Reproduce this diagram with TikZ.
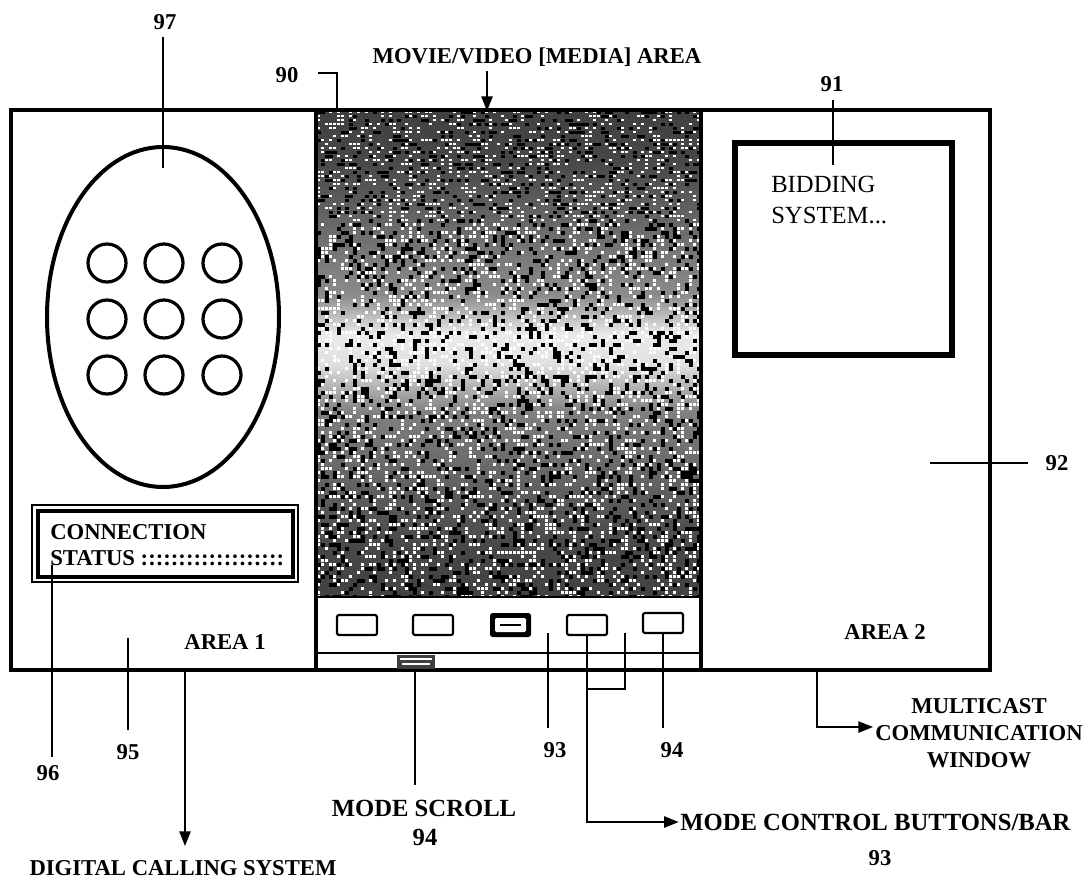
\documentclass[tikz,border=0pt]{standalone}
\usepackage{fontspec}
\setmainfont{Liberation Serif}
\usetikzlibrary{arrows.meta}
\pgfdeclareverticalshading{mediashade}{100bp}{color(0bp)=(black!85); color(30bp)=(black!72); color(44bp)=(black!50); color(49bp)=(black!12); color(52bp)=(black!8); color(56bp)=(black!45); color(70bp)=(black!72); color(100bp)=(black!88)}
\begin{document}
\begin{tikzpicture}[x=0.75pt,y=-0.75pt,
  lbl/.style={font=\bfseries\fontsize{17}{20}\selectfont, inner sep=0pt, align=center},
  biglbl/.style={font=\bfseries\fontsize{18.5}{22}\selectfont, inner sep=0pt, align=center},
  thinline/.style={line width=1.1pt},
  arr/.style={line width=1.1pt,-{Triangle[length=11pt,width=8.5pt]}},
  frameline/.style={line width=2.3pt},
  btn/.style={line width=1.6pt, rounded corners=1.5pt}]
\useasboundingbox (0,0) rectangle (1087,884);

% ---------- media area (noisy picture) ----------
\begin{scope}
  \clip (317,111) rectangle (700,597);
  \shade[shading=mediashade] (317,111) rectangle (700,597);
  \pgfmathsetseed{7}
  \foreach \i in {0,...,95}{
    \foreach \j in {0,...,121}{
      \pgfmathsetmacro\r{rnd}
      \ifdim\r pt<0.24pt \fill[white] ({317+4*\i},{111+4*\j}) rectangle ++(2.5,2.5);\fi
      \ifdim\r pt>0.80pt \fill[black] ({317+4*\i},{111+4*\j}) rectangle ++(3.5,3.5);\fi
    }}
\end{scope}

% ---------- frame and panels ----------
\draw[frameline] (11,110) rectangle (990,670);
\draw[frameline] (316,110) -- (316,670);
\draw[frameline] (701,110) -- (701,670);
\draw[line width=1.8pt] (316,597) -- (701,597);
\draw[line width=1.5pt] (316,653) -- (701,653);

% ---------- buttons ----------
\draw[btn] (337,615) rectangle (377,635);
\draw[btn] (413,615) rectangle (453,635);
\fill[black, rounded corners=2pt] (490,613) rectangle (531,637);
\fill[white, rounded corners=1pt] (495,618) rectangle (526,632);
\draw[line width=1.6pt] (500,625) -- (521,625);
\draw[btn] (567,615) rectangle (607,635);
\draw[btn] (643,613) rectangle (683,633);

% scroll thumb
\fill[black!75] (397,655) rectangle (435,669);
\draw[white, line width=0.8pt] (400,659) -- (432,659);
\draw[white, line width=0.8pt] (402,664) -- (430,664);

% ---------- left panel: keypad ----------
\draw[line width=3pt] (163,317) ellipse [x radius=116, y radius=170];
\foreach \cx in {107,164,222}{
  \foreach \cy in {263,319,375}{
    \draw[line width=2.4pt] (\cx,\cy) circle [radius=19];
  }}

% connection status box
\draw[line width=1pt] (32,505) rectangle (298,582);
\draw[line width=3pt] (38,511) rectangle (293,577);
\node[lbl, anchor=west] (conn) at (50,532) {CONNECTION};
\node[lbl, anchor=west] (stat) at (50,558) {STATUS :::::::::::::::::::};

\node[lbl] (area1) at (225,642) {AREA 1};

% ---------- right panel: bidding ----------
\draw[line width=4pt] (735,143) rectangle (952,355);
\node[font=\fontsize{18.5}{23}\selectfont, inner sep=0pt, align=left, anchor=north west] (bid) at (771,176) {BIDDING\\SYSTEM...};
\node[lbl] (area2) at (885,632) {AREA 2};

% ---------- labels and leaders ----------
\node[lbl] (n97) at (165,22) {97};
\coordinate (n97a) at (163,37); \coordinate (n97b) at (163,168);
\draw[thinline] (n97a) -- (n97b);

\node[lbl] (n90) at (287,75) {90};
\coordinate (n90a) at (318,73); \coordinate (n90b) at (337,73); \coordinate (n90c) at (337,110);
\draw[thinline] (n90a) -- (n90b) -- (n90c);

\node[lbl] (movie) at (537,57) {MOVIE/VIDEO [MEDIA] AREA};
\coordinate (mva) at (487,71); \coordinate (mvb) at (487,111);
\draw[arr] (mva) -- (mvb);

\node[lbl] (n91) at (832,84) {91};
\coordinate (n91a) at (833,100); \coordinate (n91b) at (833,165);
\draw[thinline] (n91a) -- (n91b);

\node[lbl] (n92) at (1057,463) {92};
\coordinate (n92a) at (930,463); \coordinate (n92b) at (1028,463);
\draw[thinline] (n92a) -- (n92b);

\node[lbl] (n96) at (48,773) {96};
\coordinate (n96a) at (52,565); \coordinate (n96b) at (52,757);
\draw[thinline] (n96a) -- (n96b);

\node[lbl] (n95) at (128,752) {95};
\coordinate (n95a) at (128,638); \coordinate (n95b) at (128,730);
\draw[thinline] (n95a) -- (n95b);

\node[lbl] (dig) at (183,868) {DIGITAL CALLING SYSTEM};
\coordinate (diga) at (185,670); \coordinate (digb) at (185,846);
\draw[arr] (diga) -- (digb);

\node[biglbl] (scroll) at (424,808) {MODE SCROLL};
\node[biglbl] (n94s) at (425,837) {94};
\coordinate (scra) at (415,670); \coordinate (scrb) at (415,785);
\draw[thinline] (scra) -- (scrb);

\node[lbl] (n93) at (555,750) {93};
\coordinate (n93a) at (548,633); \coordinate (n93b) at (548,728);
\draw[thinline] (n93a) -- (n93b);

\node[lbl] (n94) at (672,750) {94};
\coordinate (n94a) at (663,633); \coordinate (n94b) at (663,728);
\draw[thinline] (n94a) -- (n94b);

\coordinate (bra) at (625,633); \coordinate (brb) at (625,689); \coordinate (brc) at (587,689);
\draw[thinline] (bra) -- (brb) -- (brc);

\node[biglbl, anchor=west] (mcb) at (680,822) {MODE CONTROL BUTTONS/BAR};
\node[lbl] (n93b2) at (880,858) {93};
\coordinate (mca) at (587,635); \coordinate (mcc) at (587,822);
\draw[arr] (mca) -- (mcc) -- ([xshift=-1pt]mcb.west);

\node[lbl] (multi) at (979,733) {MULTICAST\\COMMUNICATION\\WINDOW};
\coordinate (mua) at (817,670); \coordinate (mub) at (817,727); \coordinate (muc) at (873,727);
\draw[arr] (mua) -- (mub) -- (muc);
\end{tikzpicture}
\end{document}
